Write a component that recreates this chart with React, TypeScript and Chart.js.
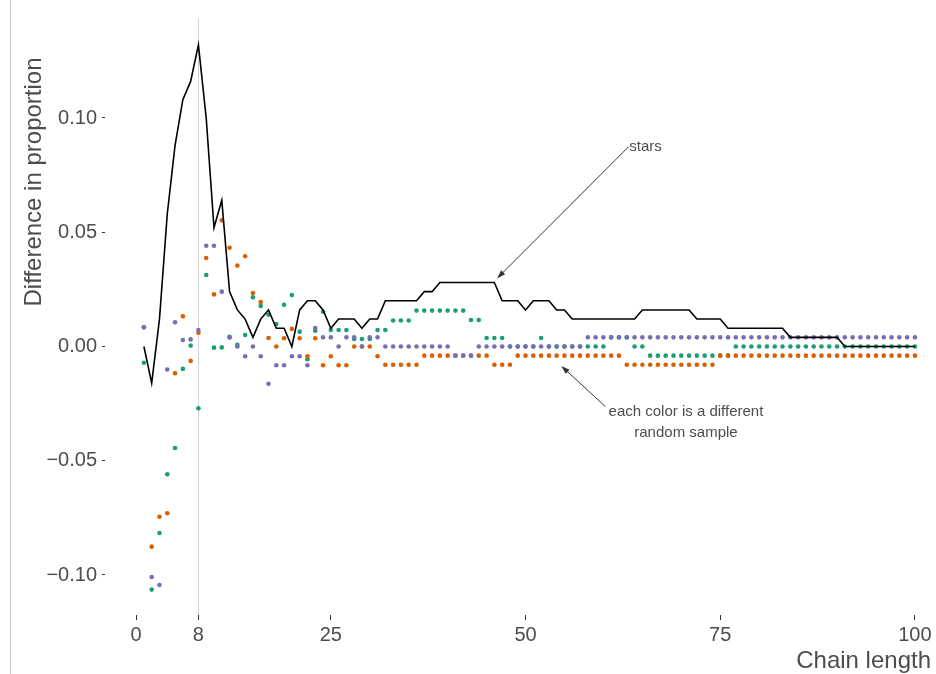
import React, { useEffect, useRef } from "react";
import { Chart, registerables } from "chart.js";

Chart.register(...registerables);

// ---- data ----
const chainLength = [
  1, 2, 3, 4, 5, 6, 7, 8, 9, 10,
  11, 12, 13, 14, 15, 16, 17, 18, 19, 20,
  21, 22, 23, 24, 25, 26, 27, 28, 29, 30,
  31, 32, 33, 34, 35, 36, 37, 38, 39, 40,
  41, 42, 43, 44, 45, 46, 47, 48, 49, 50,
  51, 52, 53, 54, 55, 56, 57, 58, 59, 60,
  61, 62, 63, 64, 65, 66, 67, 68, 69, 70,
  71, 72, 73, 74, 75, 76, 77, 78, 79, 80,
  81, 82, 83, 84, 85, 86, 87, 88, 89, 90,
  91, 92, 93, 94, 95, 96, 97, 98, 99, 100,
];

const stars = [
  0, -0.016, 0.012, 0.058, 0.088, 0.108, 0.116, 0.132, 0.1, 0.052,
  0.064, 0.024, 0.016, 0.012, 0.004, 0.012, 0.016, 0.008, 0.008, 0,
  0.016, 0.02, 0.02, 0.016, 0.008, 0.012, 0.012, 0.012, 0.008, 0.012,
  0.012, 0.02, 0.02, 0.02, 0.02, 0.02, 0.024, 0.024, 0.028, 0.028,
  0.028, 0.028, 0.028, 0.028, 0.028, 0.028, 0.02, 0.02, 0.02, 0.016,
  0.02, 0.02, 0.02, 0.016, 0.016, 0.012, 0.012, 0.012, 0.012, 0.012,
  0.012, 0.012, 0.012, 0.012, 0.016, 0.016, 0.016, 0.016, 0.016, 0.016,
  0.016, 0.012, 0.012, 0.012, 0.012, 0.008, 0.008, 0.008, 0.008, 0.008,
  0.008, 0.008, 0.008, 0.004, 0.004, 0.004, 0.004, 0.004, 0.004, 0.004,
  0, 0, 0, 0, 0, 0, 0, 0, 0, 0,
];

const samplePurple = [
  0.0084, -0.1009, -0.1044, -0.0101, 0.0106, 0.0028, 0.0031, 0.0072, 0.0441, 0.0441,
  0.024, 0.0039, 0, -0.0043, 0, -0.0043, -0.0163, -0.0082, -0.0082, -0.0043,
  -0.0043, -0.0082, 0.0081, 0.004, 0.004, 0, 0.004, 0.004, 0, 0.004,
  0.004, 0, 0, 0, 0, 0, 0, 0, 0, 0,
  -0.004, -0.004, -0.004, 0, 0, 0, 0, 0, 0, 0,
  0, 0, 0, 0, 0, 0, 0, 0.004, 0.004, 0.004,
  0.004, 0.004, 0.004, 0.004, 0.004, 0.004, 0.004, 0.004, 0.004, 0.004,
  0.004, 0.004, 0.004, 0.004, 0.004, 0.004, 0.004, 0.004, 0.004, 0.004,
  0.004, 0.004, 0.004, 0.004, 0.004, 0.004, 0.004, 0.004, 0.004, 0.004,
  0.004, 0.004, 0.004, 0.004, 0.004, 0.004, 0.004, 0.004, 0.004, 0.004,
];

const sampleGreen = [
  -0.0071, -0.1064, -0.0816, -0.0559, -0.0444, -0.0098, 0.0004, -0.027, 0.0313, -0.0005,
  -0.0004, 0.0042, 0.0007, 0.005, 0.0215, 0.0177, 0.0139, 0.0098, 0.0183, 0.0225,
  0.0065, -0.0056, 0.0069, 0.0152, 0.0072, 0.0072, 0.0072, 0.0033, 0.0033, 0.0033,
  0.0072, 0.0072, 0.0114, 0.0114, 0.0114, 0.0157, 0.0157, 0.0157, 0.0157, 0.0157,
  0.0157, 0.0157, 0.0116, 0.0116, 0.0037, 0.0037, 0.0037, 0, 0, 0,
  0, 0.0037, 0, 0, 0, 0, 0, 0, 0, 0,
  0.004, 0.004, 0.004, 0, 0, -0.004, -0.004, -0.004, -0.004, -0.004,
  -0.004, -0.004, -0.004, -0.004, -0.004, -0.004, 0, 0, 0, 0,
  0, 0, 0, 0, 0, 0, 0, 0, 0, 0,
  0, 0, 0, 0, 0, 0, 0, 0, 0, 0,
];

const sampleOrange = [
  0.0084, -0.0876, -0.0745, -0.073, -0.0117, 0.0132, -0.0063, 0.006, 0.0387, 0.0228,
  0.0552, 0.0432, 0.0354, 0.0395, 0.0234, 0.0195, 0.0037, 0, 0.0036, 0.0077,
  0.0036, -0.0043, 0.0036, -0.0082, -0.0043, -0.0082, -0.0082, 0, 0, 0,
  -0.0043, -0.008, -0.008, -0.008, -0.008, -0.008, -0.004, -0.004, -0.004, -0.004,
  -0.004, -0.004, -0.004, -0.004, -0.004, -0.008, -0.008, -0.008, -0.004, -0.004,
  -0.004, -0.004, -0.004, -0.004, -0.004, -0.004, -0.004, -0.004, -0.004, -0.004,
  -0.004, -0.004, -0.008, -0.008, -0.008, -0.008, -0.008, -0.008, -0.008, -0.008,
  -0.008, -0.008, -0.008, -0.008, -0.004, -0.004, -0.004, -0.004, -0.004, -0.004,
  -0.004, -0.004, -0.004, -0.004, -0.004, -0.004, -0.004, -0.004, -0.004, -0.004,
  -0.004, -0.004, -0.004, -0.004, -0.004, -0.004, -0.004, -0.004, -0.004, -0.004,
];

const xTickValues = [0, 8, 25, 50, 75, 100];
const xTickLabels = ["0", "8", "25", "50", "75", "100"];
const yTickValues = [-0.1, -0.05, 0, 0.05, 0.1];
const yTickLabels = ["\u22120.10", "\u22120.05", "0.00", "0.05", "0.10"];
const referenceX = 8;

const xTitle = "Chain length";
const yTitle = "Difference in proportion";
const starsLabel = "stars";
const sampleLabelLines = ["each color is a different", "random sample"];

// annotation anchors, in data units
const starsArrow = { fromX: 63.2, fromY: 0.0873, toX: 46.35, toY: 0.0298 };
const sampleArrow = { fromX: 60.25, fromY: -0.0263, toX: 54.6, toY: -0.0085, textX: 70.6, textY: -0.0287 };

const FONT = '"Liberation Sans", Arial, Helvetica, sans-serif';
const TEXT = "#4d4d4d";

function drawArrow(ctx: CanvasRenderingContext2D, x1: number, y1: number, x2: number, y2: number) {
  const ang = Math.atan2(y2 - y1, x2 - x1);
  const len = 9;
  const spread = 0.32;
  ctx.beginPath();
  ctx.moveTo(x1, y1);
  ctx.lineTo(x2 - Math.cos(ang) * 4, y2 - Math.sin(ang) * 4);
  ctx.stroke();
  ctx.beginPath();
  ctx.moveTo(x2, y2);
  ctx.lineTo(x2 - len * Math.cos(ang - spread), y2 - len * Math.sin(ang - spread));
  ctx.lineTo(x2 - len * Math.cos(ang + spread), y2 - len * Math.sin(ang + spread));
  ctx.closePath();
  ctx.fill();
}

const overlayPlugin = {
  id: "overlay",
  beforeDatasetsDraw(chart: any) {
    const { ctx, chartArea, scales } = chart;
    const x = scales.x;
    ctx.save();
    ctx.strokeStyle = "#d4d4d4";
    ctx.lineWidth = 1;
    const px = Math.round(x.getPixelForValue(referenceX)) + 0.5;
    ctx.beginPath();
    ctx.moveTo(px, chartArea.top);
    ctx.lineTo(px, chartArea.bottom);
    ctx.stroke();
    ctx.restore();
  },
  afterDraw(chart: any) {
    const { ctx, scales } = chart;
    const x = scales.x;
    const y = scales.y;
    ctx.save();
    // left page rule
    ctx.strokeStyle = "#c4c4c4";
    ctx.lineWidth = 1;
    ctx.beginPath();
    ctx.moveTo(10.5, 0);
    ctx.lineTo(10.5, chart.height);
    ctx.stroke();

    // axis titles
    ctx.fillStyle = TEXT;
    ctx.font = `24px ${FONT}`;
    ctx.textAlign = "right";
    ctx.textBaseline = "middle";
    ctx.fillText(xTitle, 931, 661);
    ctx.save();
    ctx.translate(34, 182);
    ctx.rotate(-Math.PI / 2);
    ctx.textAlign = "center";
    ctx.fillText(yTitle, 0, 0);
    ctx.restore();

    // annotations
    ctx.strokeStyle = "#333333";
    ctx.fillStyle = "#333333";
    ctx.lineWidth = 1;
    drawArrow(
      ctx,
      x.getPixelForValue(starsArrow.fromX),
      y.getPixelForValue(starsArrow.fromY),
      x.getPixelForValue(starsArrow.toX),
      y.getPixelForValue(starsArrow.toY)
    );
    drawArrow(
      ctx,
      x.getPixelForValue(sampleArrow.fromX),
      y.getPixelForValue(sampleArrow.fromY),
      x.getPixelForValue(sampleArrow.toX),
      y.getPixelForValue(sampleArrow.toY)
    );
    ctx.fillStyle = TEXT;
    ctx.font = `15px ${FONT}`;
    ctx.textAlign = "left";
    ctx.textBaseline = "middle";
    ctx.fillText(starsLabel, x.getPixelForValue(starsArrow.fromX) + 1, y.getPixelForValue(starsArrow.fromY));
    ctx.textAlign = "center";
    const tx = x.getPixelForValue(sampleArrow.textX);
    const ty = y.getPixelForValue(sampleArrow.textY);
    sampleLabelLines.forEach((line, i) => ctx.fillText(line, tx, ty + i * 21));
    ctx.restore();
  },
};

export default function App() {
  const canvasRef = useRef<HTMLCanvasElement | null>(null);

  useEffect(() => {
    const canvas = canvasRef.current;
    if (!canvas) return;
    const toPoints = (vals: number[]) => chainLength.map((c, i) => ({ x: c, y: vals[i] }));
    const dot = (vals: number[], color: string, order: number) => ({
      type: "scatter" as const,
      data: toPoints(vals),
      backgroundColor: color,
      borderWidth: 0,
      pointRadius: 2.3,
      pointHoverRadius: 2.3,
      order,
    });
    const chart = new Chart(canvas, {
      type: "scatter",
      data: {
        datasets: [
          {
            type: "line",
            data: toPoints(stars),
            borderColor: "#000000",
            borderWidth: 1.6,
            pointRadius: 0,
            tension: 0,
            fill: false,
            order: 0,
          } as any,
          dot(samplePurple, "#7570b3", 1),
          dot(sampleOrange, "#d95f02", 2),
          dot(sampleGreen, "#1b9e77", 3),
        ],
      },
      options: {
        animation: false,
        responsive: false,
        devicePixelRatio: 1,
        layout: { padding: { top: 18, left: 0, right: 0, bottom: 0 } },
        plugins: { legend: { display: false }, tooltip: { enabled: false } },
        scales: {
          x: {
            type: "linear",
            min: -3.995,
            max: 102.41,
            border: { display: false },
            grid: {
              display: true,
              drawOnChartArea: false,
              drawTicks: true,
              tickLength: 5,
              tickColor: "#333333",
              tickWidth: 1,
            },
            afterBuildTicks: (scale: any) => {
              scale.ticks = xTickValues.map((v) => ({ value: v }));
            },
            afterFit: (scale: any) => {
              scale.height = 59;
            },
            ticks: {
              autoSkip: false,
              maxRotation: 0,
              padding: 3,
              color: TEXT,
              font: { family: FONT, size: 20 },
              callback: (_v: any, i: number) => xTickLabels[i],
            },
          },
          y: {
            type: "linear",
            min: -0.11751,
            max: 0.14376,
            border: { display: false },
            grid: {
              display: true,
              drawOnChartArea: false,
              drawTicks: true,
              tickLength: 3,
              tickColor: "#333333",
              tickWidth: 1,
            },
            afterBuildTicks: (scale: any) => {
              scale.ticks = yTickValues.map((v) => ({ value: v }));
            },
            afterFit: (scale: any) => {
              scale.width = 105;
            },
            ticks: {
              autoSkip: false,
              padding: 5,
              color: TEXT,
              font: { family: FONT, size: 20 },
              callback: (_v: any, i: number) => yTickLabels[i],
            },
          },
        },
      },
      plugins: [overlayPlugin],
    });
    return () => chart.destroy();
  }, []);

  return (
    <div style={{ position: "fixed", left: 0, top: 0, width: 936, height: 674, background: "#ffffff" }}>
      <canvas ref={canvasRef} width={936} height={674} style={{ display: "block", width: 936, height: 674 }} />
    </div>
  );
}
